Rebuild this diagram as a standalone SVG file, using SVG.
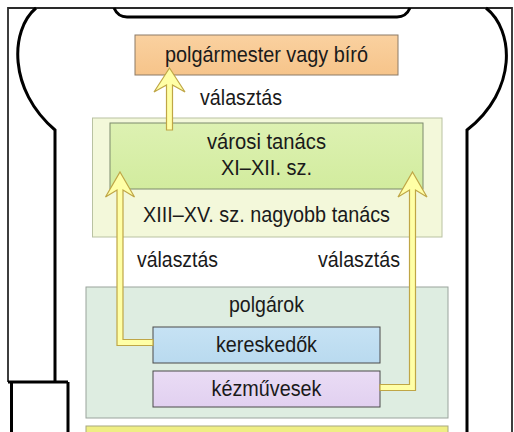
<svg xmlns="http://www.w3.org/2000/svg" width="514" height="432" viewBox="0 0 514 432">
<style>
text{font-family:"Liberation Sans",Arial,sans-serif;font-size:22px;fill:#1a1a1a;}
.c{text-anchor:middle;}
.thick{fill:none;stroke:#000;stroke-width:3;}
.arrow{fill:#FFFFA6;stroke:#BFA646;stroke-width:1.2;stroke-linejoin:miter;}
</style>
<defs>
<linearGradient id="gOr" x1="0" y1="0" x2="0" y2="1"><stop offset="0" stop-color="#FAD1A0"/><stop offset="1" stop-color="#F6C48A"/></linearGradient>
<linearGradient id="gGr" x1="0" y1="0" x2="0" y2="1"><stop offset="0" stop-color="#DDF1B2"/><stop offset="1" stop-color="#D2EC9E"/></linearGradient>
<linearGradient id="gBl" x1="0" y1="0" x2="0" y2="1"><stop offset="0" stop-color="#C6E2F4"/><stop offset="1" stop-color="#B9DAEF"/></linearGradient>
<linearGradient id="gPu" x1="0" y1="0" x2="0" y2="1"><stop offset="0" stop-color="#EADCF5"/><stop offset="1" stop-color="#E1D0F0"/></linearGradient>
</defs>
<rect width="514" height="432" fill="#fff"/>
<g id="frame">
<path d="M8 382 L8 8 L512 8 L512 432" fill="none" stroke="#2a2a2a" stroke-width="1.8"/>
<path class="thick" d="M36 8 C10 30 8 90 55 130 L55 382"/>
<path class="thick" d="M114 8 Q118 17 127 17 L397 17 Q406 17 410 8"/>
<path class="thick" d="M486 8 C514 30 518 90 467 130 L467 432"/>
<path class="thick" d="M8 382 L68 382 M11.5 382 L11.5 432 M68 382 L68 432"/>
</g>
<g id="mayor">
<rect x="135" y="35" width="263" height="40" fill="url(#gOr)" stroke="#8C7A66" stroke-width="1"/>
<text class="c" x="266.5" y="62" textLength="203" lengthAdjust="spacingAndGlyphs">polgármester vagy bíró</text>
</g>
<g id="greater-council">
<rect x="92.5" y="118" width="349.5" height="119" fill="#F3F8DA" stroke="#B9C2A2" stroke-width="1"/>
<text class="c" x="266.5" y="222" textLength="247" lengthAdjust="spacingAndGlyphs">XIII–XV. sz. nagyobb tanács</text>
</g>
<g id="city-council">
<rect x="110" y="123" width="313" height="66" fill="url(#gGr)" stroke="#7D8A6C" stroke-width="1"/>
<text class="c" x="266.5" y="149" textLength="119" lengthAdjust="spacingAndGlyphs">városi tanács</text>
<text class="c" x="266.5" y="175" textLength="91" lengthAdjust="spacingAndGlyphs">XI–XII. sz.</text>
</g>
<g id="citizens">
<rect x="86" y="287" width="362" height="131" fill="#DEEDE1" stroke="#9AA39C" stroke-width="1"/>
<text class="c" x="266.5" y="312" textLength="75" lengthAdjust="spacingAndGlyphs">polgárok</text>
</g>
<g id="merchants">
<rect x="153" y="327" width="227" height="36" fill="url(#gBl)" stroke="#4A4A4A" stroke-width="1"/>
<text class="c" x="266.5" y="352" textLength="101" lengthAdjust="spacingAndGlyphs">kereskedők</text>
</g>
<g id="craftsmen">
<rect x="153" y="371" width="227" height="36" fill="url(#gPu)" stroke="#4A4A4A" stroke-width="1"/>
<text class="c" x="266.5" y="396" textLength="110" lengthAdjust="spacingAndGlyphs">kézművesek</text>
</g>
<g id="bottom-box">
<rect x="86" y="426" width="362" height="10" fill="#EFEE84" stroke="#A8A880" stroke-width="1"/>
</g>
<g id="connectors">
<polygon class="arrow" points="169.5,68 185,92 172.5,85 172.5,130 166.5,130 166.5,85 154,92"/>
<polygon class="arrow" points="120,172 134.5,197 123,190 123,339.5 153,339.5 153,345.5 117,345.5 117,190 105.5,197"/>
<polygon class="arrow" points="412.5,172 427,197 415.5,190 415.5,390.5 380,390.5 380,384.5 409.5,384.5 409.5,190 398,197"/>
<text x="200" y="105" textLength="82" lengthAdjust="spacingAndGlyphs">választás</text>
<text x="137" y="267" textLength="81" lengthAdjust="spacingAndGlyphs">választás</text>
<text x="318" y="267" textLength="82" lengthAdjust="spacingAndGlyphs">választás</text>
</g>
</svg>
